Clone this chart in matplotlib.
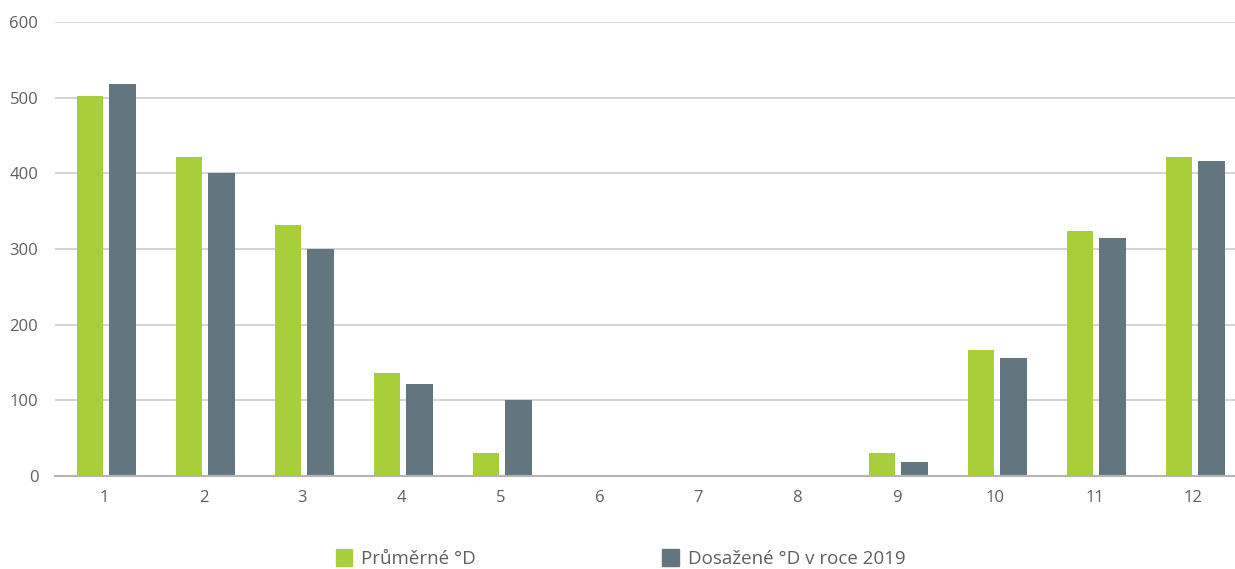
import numpy as np
import matplotlib.pyplot as plt
from matplotlib.patches import Patch

# Denostupně po měsících
mesice = [1, 2, 3, 4, 5, 6, 7, 8, 9, 10, 11, 12]
prumerne = [502, 421, 332, 136, 30, 0, 0, 0, 30, 166, 324, 421]
dosazene_2019 = [518, 400, 300, 122, 100, 0, 0, 0, 18, 156, 314, 416]
popisky = ['Průměrné °D', 'Dosažené °D v roce 2019']

zelena = '#a8ce3a'
seda = '#637680'
text_barva = '#5f5f5f'

plt.rcParams['font.family'] = ['Open Sans', 'DejaVu Sans']

fig = plt.figure(figsize=(12.35, 5.69), dpi=100)
ax = fig.add_axes([0.0445, 0.1634, 0.9555, 0.7979])

x = np.array(mesice)
sirka = 0.27
ax.bar(x - 0.145, prumerne, sirka, color=zelena, zorder=2)
ax.bar(x + 0.185, dosazene_2019, sirka, color=seda, zorder=2)

ax.set_xlim(0.5, 12.42)
ax.set_ylim(0, 600)
ax.set_yticks(range(0, 601, 100))
ax.set_xticks(x)
ax.set_xticklabels([str(m) for m in mesice])

ax.yaxis.grid(True, color='#c8c8c8', linewidth=1.1, zorder=0)
ax.set_axisbelow(True)
for s in ['top', 'right', 'left']:
    ax.spines[s].set_visible(False)
ax.spines['bottom'].set_color('#b4b4b4')
ax.spines['bottom'].set_linewidth(1.5)

ax.tick_params(axis='both', length=0, labelsize=12, colors=text_barva)
ax.tick_params(axis='y', pad=12)
ax.tick_params(axis='x', pad=10)

handles = [Patch(color=zelena), Patch(color=seda)]
fig.legend(handles, popisky, loc='lower left', bbox_to_anchor=(0.258, -0.028),
           ncol=2, frameon=False, fontsize=13.5, labelcolor=text_barva,
           handlelength=0.9, handleheight=1.07, handletextpad=0.48,
           columnspacing=9.9)

fig.savefig('out.png', dpi=100, facecolor='white')
